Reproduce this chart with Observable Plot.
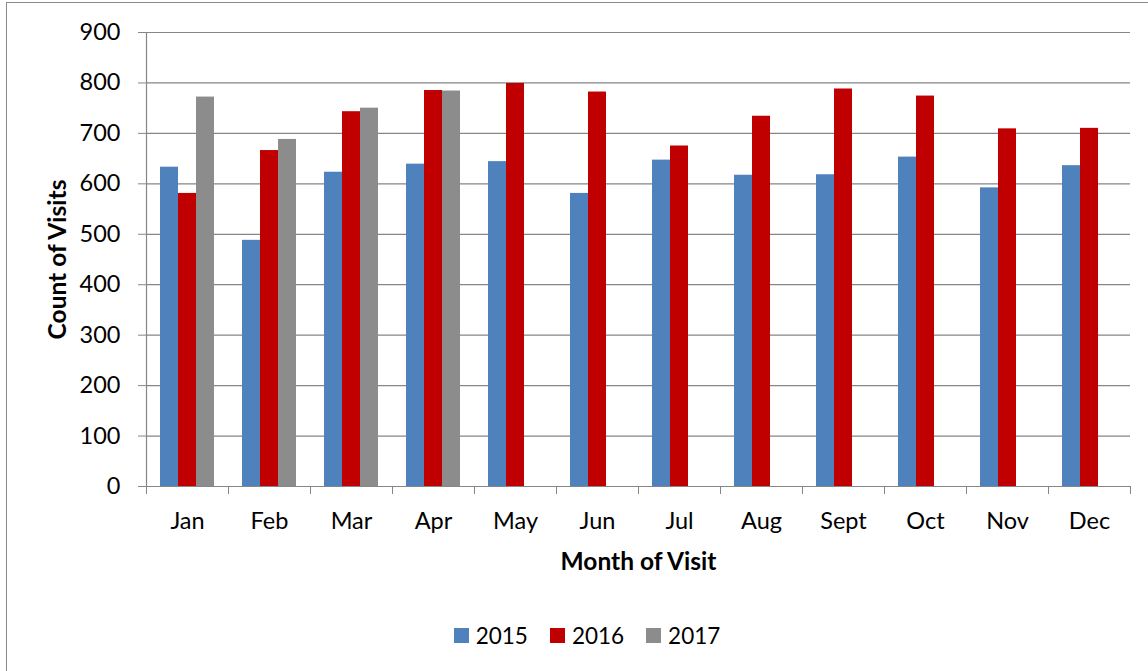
<!DOCTYPE html>
<html>
<head>
<meta charset="utf-8">
<script src="https://cdn.jsdelivr.net/npm/d3@7"></script>
<script src="https://cdn.jsdelivr.net/npm/@observablehq/plot@0.6"></script>
<style>
  html, body { margin: 0; padding: 0; background: #fff; }
  body { width: 1148px; height: 671px; overflow: hidden; position: relative; font-family: Lato, "Open Sans", sans-serif; }
  #box { position: absolute; left: 6px; top: 2px; width: 1170px; height: 700px; border: 1.5px solid #8a8a8a; box-sizing: border-box; }
  #chart { position: absolute; left: 0; top: 0; }
  #chart g[aria-label="y-axis label"] text,
  #chart g[aria-label="fx-axis label"] text { font-weight: bold; font-size: 24.5px; }
  #legend { position: absolute; left: 0; top: 620px; width: 1174px; height: 30px; display: flex; justify-content: center; align-items: center; font-family: Lato, sans-serif; font-size: 22.5px; color: #000; }
  .item { display: flex; align-items: center; margin: 0 11px; }
  .sw { width: 15px; height: 15px; margin-right: 7px; }
</style>
</head>
<body>
<div id="box"></div>
<div id="chart"></div>
<div id="legend"></div>
<script>
const months = ["Jan","Feb","Mar","Apr","May","Jun","Jul","Aug","Sept","Oct","Nov","Dec"];
const years = ["2015","2016","2017"];
const colors = ["#4F81BD","#C00000","#8C8C8C"];
const visits2015 = [633, 488, 623, 639, 644, 581, 647, 617, 618, 653, 592, 636];
const visits2016 = [581, 666, 743, 785, 799, 782, 675, 734, 788, 774, 709, 710];
const visits2017 = [772, 688, 750, 784, null, null, null, null, null, null, null, null];
const yTicks = [0,100,200,300,400,500,600,700,800,900];

const series = [visits2015, visits2016, visits2017];
const data = [];
months.forEach((m, i) => {
  years.forEach((yr, j) => {
    const v = series[j][i];
    if (v != null) data.push({month: m, year: yr, count: v});
  });
});

const W = 1148, H = 600, ML = 146, MR = 18, MT = 32, MB = 114;
const band = (W - ML - MR) / months.length;
const gray = "#868686";

const chart = Plot.plot({
  width: W, height: H,
  marginLeft: ML, marginRight: MR, marginTop: MT, marginBottom: MB,
  style: {fontFamily: "Lato, 'Open Sans', sans-serif", fontSize: "23.5px", color: "#000", background: "transparent", overflow: "visible"},
  fx: {domain: months, padding: 0, label: null},
  x: {domain: years, paddingInner: 0, paddingOuter: 0.778, round: false, axis: null},
  y: {domain: [0, 900]},
  color: {domain: years, range: colors},
  marks: [
    Plot.gridY({ticks: yTicks, stroke: gray, strokeOpacity: 1, strokeWidth: 1.2}),
    Plot.barY(data, {fx: "month", x: "year", y: "count", fill: "year"}),
    Plot.frame({anchor: "left", stroke: gray, strokeWidth: 1.2, facet: "super"}),
    Plot.axisY({ticks: yTicks, tickSize: 8, tickPadding: 18, stroke: gray, fill: "#000",
      label: "Count of Visits", labelAnchor: "center", labelArrow: false, labelOffset: 98}),
    Plot.axisFx({anchor: "bottom", tickSize: 0, tickPadding: 26, fill: "#000",
      label: "Month of Visit", labelAnchor: "center", labelOffset: 83}),
    Plot.axisFx({anchor: "bottom", tickSize: 8, tickFormat: () => "", label: null, stroke: gray, dx: -band / 2}),
    Plot.axisFx({anchor: "bottom", tickSize: 8, tickFormat: () => "", label: null, stroke: gray, dx: band / 2})
  ]
});
document.getElementById("chart").appendChild(chart);

const legend = document.getElementById("legend");
years.forEach((yr, i) => {
  const it = document.createElement("div");
  it.className = "item";
  const sw = document.createElement("div");
  sw.className = "sw";
  sw.style.background = colors[i];
  const t = document.createElement("span");
  t.textContent = yr;
  it.appendChild(sw); it.appendChild(t);
  legend.appendChild(it);
});
</script>
</body>
</html>
